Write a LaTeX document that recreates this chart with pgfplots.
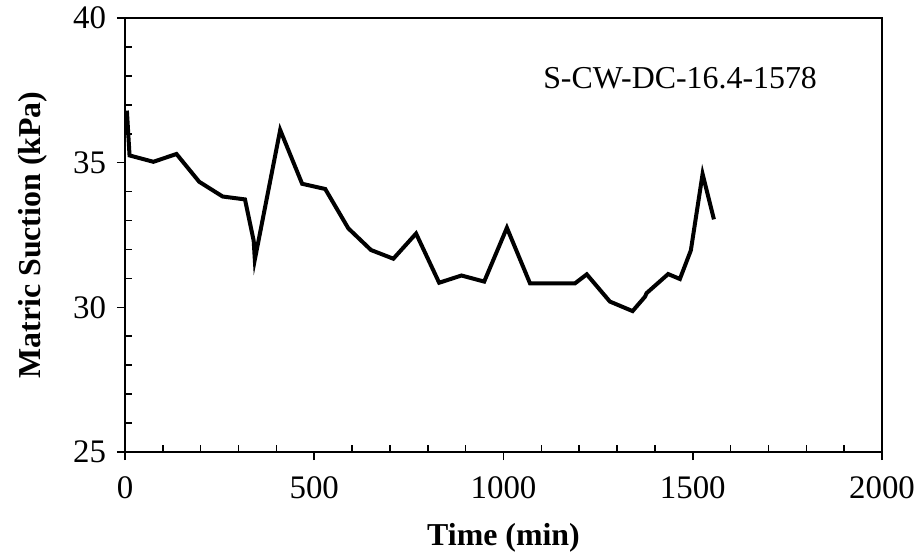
\documentclass[border=0pt]{standalone}
\usepackage{pgfplots}
\pgfplotsset{compat=1.18}
\usepackage{fontspec}
\setmainfont{Liberation Serif}
\begin{document}
\fontsize{16}{19}\selectfont
\begin{tikzpicture}
\begin{axis}[
    name=ax,
    scale only axis,
    width=378.5bp, height=217bp,
    xmin=0, xmax=2000, ymin=25, ymax=40,
    xtick={0,500,...,2000}, ytick={25,30,...,40},
    minor x tick num=4, minor y tick num=4,
    axis line style={line width=1bp},
    every tick/.style={black, line width=0.8bp},
    major tick length=4bp, minor tick length=3.3bp,
    tick align=inside,
    major x tick style={yshift=-4bp},
    major y tick style={xshift=-4bp},
    xtick pos=bottom, ytick pos=left,
    /pgf/number format/assume math mode=true,
    /pgf/number format/set thousands separator={},
    ticklabel style={font=\fontsize{16.5}{19}\selectfont},
    xticklabel style={yshift=-7bp},
    yticklabel style={xshift=-4bp},
    xlabel={\textbf{Time (min)}},
    ylabel={\textbf{Matric Suction (kPa)}},
    label style={font=\fontsize{16}{19}\selectfont},
    xlabel style={yshift=-1.5bp},
    ylabel style={yshift=2bp},
    clip=false,
]
\addplot[black, line width=2bp, line join=miter, no marks] coordinates {
(5,36.8) (12,35.25) (75,35.03) (136,35.3) (196,34.34) (258,33.83)
(317,33.73) (340,32.3) (343,31.65) (410,36.13) (468,34.27) (529,34.09)
(590,32.73) (650,31.98) (709,31.68) (769,32.55) (830,30.85) (889,31.1)
(949,30.89) (1009,32.75) (1070,30.83) (1189,30.83) (1220,31.14)
(1281,30.2) (1341,29.87) (1374,30.37) (1378,30.49) (1435,31.15)
(1466,30.98) (1495,31.97) (1526,34.61) (1556,33.04)
};
\node[anchor=base west, inner sep=0pt] at (axis cs:1104,37.58) {S-CW-DC-16.4-1578};
\end{axis}
\pgfresetboundingbox
\path[use as bounding box] (-62.5bp,-50bp) rectangle (396bp,226bp);
\end{tikzpicture}
\end{document}
